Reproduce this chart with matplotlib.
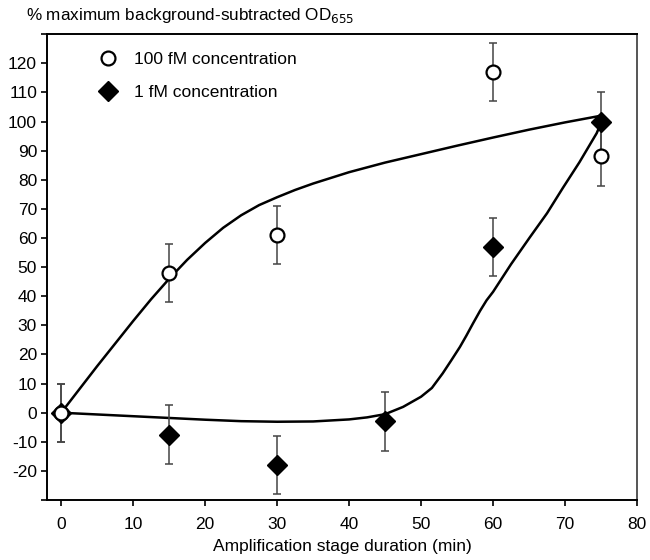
import matplotlib
matplotlib.use("Agg")
import matplotlib.pyplot as plt
import numpy as np

plt.rcParams['font.family'] = ['Liberation Sans', 'DejaVu Sans']

# Data points
x_100 = [0, 15, 30, 60, 75]
y_100 = [0, 48, 61, 117, 88]
err_100 = [10, 10, 10, 10, 10]

x_1 = [0, 15, 30, 45, 60, 75]
y_1 = [0, -7.5, -18, -3, 57, 100]
err_1 = [10, 10, 10, 10, 10, 10]

# Fitted curves
fit_100_x = [0, 5, 10, 12.5, 15, 17.5, 20, 22.5, 25, 27.5, 30, 32.5, 35, 40, 45, 50, 55, 60, 65, 70, 75]
fit_100_y = [0, 16, 31.5, 39, 46, 52.5, 58.3, 63.5, 67.8, 71.3, 74, 76.5, 78.7, 82.6, 85.9, 88.8, 91.7, 94.5, 97.2, 99.7, 102]

fit_1_x = [0, 5, 10, 15, 20, 25, 30, 35, 40, 42.5, 45, 47.5, 50, 51.5, 53, 54.2, 55.4, 56.3, 57.2,
           58.2, 59.1, 60, 62.5, 65.1, 67.5, 69.7, 72, 74.4, 75]
fit_1_y = [0, -0.6, -1.2, -1.8, -2.4, -2.9, -3.1, -3.0, -2.3, -1.6, -0.5, 2.0, 5.5, 8.5, 13.5, 18,
           22.6, 26.5, 30.6, 35, 38.6, 41.5, 51, 60.2, 68.5, 77.2, 86, 96, 99.5]

xticks = [0, 10, 20, 30, 40, 50, 60, 70, 80]
yticks = list(range(-30, 131, 10))
ytick_labels = ['' if (v == -30 or v == 130) else str(v) for v in yticks]

fig = plt.figure(figsize=(6.5, 5.6), dpi=100)
ax = fig.add_axes([0.072, 0.107, 0.908, 0.832])

ax.plot(fit_100_x, fit_100_y, color='black', lw=1.8, zorder=2, solid_capstyle='round', solid_joinstyle='round')
ax.plot(fit_1_x, fit_1_y, color='black', lw=1.8, zorder=2, solid_capstyle='round', solid_joinstyle='round')

ax.errorbar(x_1, y_1, yerr=err_1, fmt='none', ecolor='#444444', elinewidth=1.1, capsize=3, capthick=1.1, zorder=3)
ax.errorbar(x_100, y_100, yerr=err_100, fmt='none', ecolor='#444444', elinewidth=1.1, capsize=3, capthick=1.1, zorder=3)

ax.plot(x_1, y_1, linestyle='none', marker='D', markersize=10, color='black', zorder=4,
        label='1 fM concentration')
ax.plot(x_100, y_100, linestyle='none', marker='o', markersize=10, markerfacecolor='white',
        markeredgecolor='black', markeredgewidth=1.6, zorder=5, label='100 fM concentration')

ax.set_xlim(-2, 80)
ax.set_ylim(-30, 130)
ax.set_xticks(xticks)
ax.set_xticklabels([str(v) for v in xticks])
ax.set_yticks(yticks)
ax.set_yticklabels(ytick_labels)
ax.tick_params(axis='both', direction='out', length=4, width=1.2, labelsize=12.5, colors='black')
ax.tick_params(axis='x', pad=8)
ax.tick_params(axis='y', pad=3)

for s in ['left', 'bottom', 'top']:
    ax.spines[s].set_linewidth(1.4)
    ax.spines[s].set_color('black')
ax.spines['right'].set_linewidth(1.4)
ax.spines['right'].set_color('#555555')

handles, labels = ax.get_legend_handles_labels()
ax.legend([handles[1], handles[0]], [labels[1], labels[0]], loc='upper left',
          bbox_to_anchor=(0.06, 0.995), frameon=False, fontsize=12.5,
          handletextpad=0.9, labelspacing=1.0, handlelength=1.2)

ax.set_xlabel('Amplification stage duration (min)', fontsize=12.5, labelpad=5)
fig.text(0.04, 0.955, '% maximum background-subtracted OD$_{655}$', fontsize=12.3, ha='left', va='bottom')

fig.savefig('out.png', dpi=100)
